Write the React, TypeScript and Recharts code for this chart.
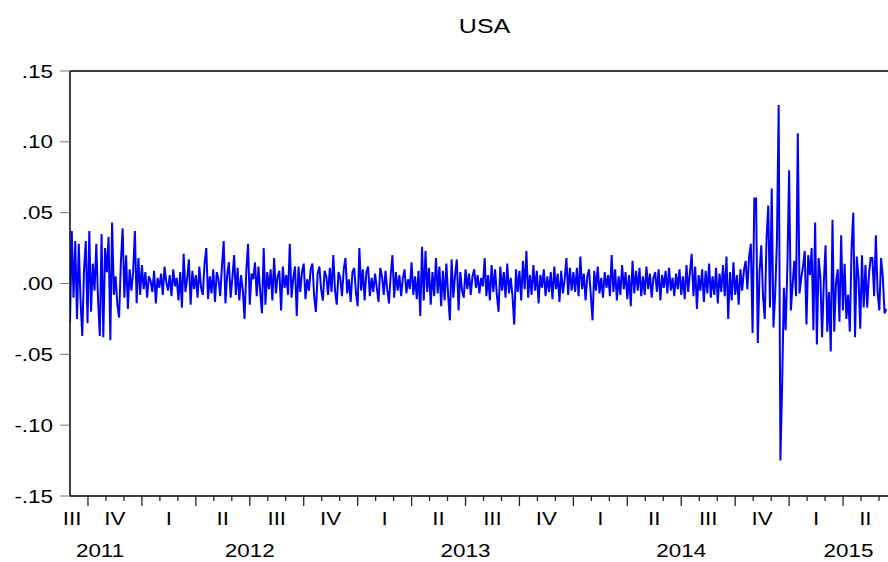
import React from 'react';
import { LineChart, Line, XAxis, YAxis, ReferenceLine } from 'recharts';

// Daily returns (in thousandths), grouped by calendar year
const ret2011 = [
  -27, 37, -10, 30, -25, 28, -12, -37, 10, 30,
  -28, 37, -20, 14, -5, 28, -12, -37, 35, -38,
  25, 8, 33, -40, 43, -8, 5, -15, -24, 15,
  39, -10, 20, -18, 10, -5, 8, 37, -14, 18,
  -8,
];
const ret2012 = [
  13, -4, 8, -10, 5, 2, -6, 9, -14, 4,
  -3, 7, -8, 12, 1, -5, 6, -9, 10, -2,
  4, -12, 8, -17, 21, -6, 3, 17, -15, 9,
  -4, 6, -10, 12, -3, -8, 14, 25, -11, 5,
  -7, 10, -13, 8, 3, -9, 12, 30, -14, 6,
  15, -10, 4, 20, -8, 11, -12, 6, -5, -25,
  9, 28, -15, 7, 3, 15, -9, 12, -6, -21,
  25, -15, 8, -4, 10, -12, 18, -7, 5, 9,
  -19, 12, -3, 6, -8, 28, -10, 4, 12, -23,
  12, -6, 8, 14, -11, 3, -5, 10, 14, -9,
  -20, 7, 12, -4, -12, 9, 5, -8, 11, -6,
  20, -5, -15, 8, 4, -9, 10, 18, -7, 3,
  -13, 8, 11, -6,
];
const ret2013 = [
  -16, 25, -5, 10, -12, 8, 12, -9, 4, -6,
  7, -3, -13, 11, 5, -8, 9, -4, -14, 6,
  20, -10, 8, -5, 6, -9, 4, 10, -7, 3,
  -4, 15, -8, 5, -11, 9, -23, 26, -12, 23,
  -6, 11, -15, 8, -9, 18, -7, 12, -16, 9,
  -12, 14, -8, -26, 17, -10, 6, 17, -19, 8,
  -5, -10, 10, -4, 7, -8, 5, 10, -3, 6,
  -7, 4, -2, 18, -9, 6, -12, 13, -6, 10,
  -8, -20, 12, -5, 8, -10, 14, -7, 4, -9,
  -29, 10, -6, 9, -12, 16, -4, 23, -10, 6,
  -8, 13, -5, 9, -14, 6, -3, 10, -9, 5,
  -6, 8, -11, 12, -4, 7, -13, 9, -7, 3,
  18, -8, 11, -5,
];
const ret2014 = [
  8, -6, 11, -9, 19, -4, 7, -12, 5, 10,
  -8, -26, 9, -5, 12, -7, 4, -10, 8, -3,
  6, -9, 20, -6, 10, -12, 5, -8, 13, -4,
  8, -11, 6, -16, 16, -7, 9, -5, 11, -9,
  5, -8, 12, -4, 7, -10, 4, 8, -6, 10,
  -12, 6, -3, 9, -7, 11, -5, 4, -9, 7,
  -4, 10, -8, 5, -11, 13, -6, 8, 21, -9,
  12, -18, 6, -5, 10, -13, 9, -7, 14, -10,
  5, -8, 11, -14, 7, -6, 13, -9, 19, -25,
  8, -12, 15, -8, 6, -15, 10, -5, 9, 16,
  -4, 19, 28, -35, 60, 60, -42, 8, 27, -9,
  -25, 31, 55, -17, 67, -31, -7, 30, 126, -125,
  -71, -3, -33, 12,
];
const ret2015 = [
  80, -19, -1, 16, -9, 106, -7, 4, 12, 23,
  -29, 20, 6, 25, -33, 43, -43, 18, 5, -38,
  1, 27, -34, -6, -48, 45, -34, 0, 10, -27,
  34, -19, 14, -25, -8, -34, 25, 50, -38, 19,
  4, -32, 20, -17, 13, -17, 6, 18, 18, -9,
  34, -6, -19, 18, 5, -21, -18,
];

// Calendar spans in months counted from 1 Sep 2011
const yearNames = ['2011', '2012', '2013', '2014', '2015'];
const yearStartMonth = [0, 4, 16, 28, 40];
const yearEndMonth = [4, 16, 28, 40, 45.5];
const yearReturns = [ret2011, ret2012, ret2013, ret2014, ret2015];
const yearLabelMonth = [1.67, 10, 22, 34, 43.3];

const quarterLabels = ['III', 'IV', 'I', 'II', 'III', 'IV', 'I', 'II', 'III', 'IV', 'I', 'II', 'III', 'IV', 'I', 'II'];
const quarterLabelMonth = [0.12, 2.5, 5.5, 8.5, 11.5, 14.5, 17.5, 20.5, 23.5, 26.5, 29.5, 32.5, 35.5, 38.5, 41.5, 44.24];
const monthTickCount = 45; // month boundaries 1..45 (Oct 2011 .. Jun 2015)

const yTicks = [-0.15, -0.1, -0.05, 0, 0.05, 0.1, 0.15];

const data: { t: number; v: number }[] = [];
yearReturns.forEach((vals, k) => {
  const span = yearEndMonth[k] - yearStartMonth[k];
  vals.forEach((val, j) => {
    data.push({ t: yearStartMonth[k] + (j * span) / vals.length, v: val / 1000 });
  });
});

type TickInfo = { tick?: 'major' | 'minor'; q?: string; year?: string };
const tickInfo = new Map<number, TickInfo>();
for (let m = 1; m <= monthTickCount; m++) {
  tickInfo.set(m, { tick: (m - 1) % 3 === 0 ? 'major' : 'minor' });
}
quarterLabelMonth.forEach((m, i) => {
  const cur = tickInfo.get(m) || {};
  tickInfo.set(m, { ...cur, q: quarterLabels[i] });
});
yearLabelMonth.forEach((m, i) => {
  const cur = tickInfo.get(m) || {};
  tickInfo.set(m, { ...cur, year: yearNames[i] });
});
const xTicks = Array.from(tickInfo.keys()).sort((a, b) => a - b);

const W = 888;
const H = 562;
const PLOT_TOP = 71;
const X_AXIS_H = 66;
const PLOT_BOTTOM = H - X_AXIS_H;
const FONT = '"Liberation Sans", Arial, Helvetica, sans-serif';
const FS = 19;
const STRETCH = 1.18;

function fmtY(v: number) {
  if (Math.abs(v) < 1e-9) return '.00';
  const s = Math.abs(v).toFixed(2).replace(/^0/, '');
  return (v < 0 ? '-' : '') + s;
}

function YTick(props: any) {
  const { x, y, payload } = props;
  return (
    <text
      transform={`translate(${x},${y + 6.5}) scale(${STRETCH},1)`}
      textAnchor="end"
      fontFamily={FONT}
      fontSize={FS}
      fill="#000"
    >
      {fmtY(payload.value)}
    </text>
  );
}

function XTick(props: any) {
  const { x, payload } = props;
  const info = tickInfo.get(payload.value) || {};
  return (
    <g>
      {info.tick && (
        <line
          x1={x}
          x2={x}
          y1={PLOT_BOTTOM}
          y2={PLOT_BOTTOM + (info.tick === 'major' ? 10 : 5)}
          stroke="#222"
          strokeWidth={1.3}
        />
      )}
      {info.q && (
        <text
          transform={`translate(${x},${PLOT_BOTTOM + 29}) scale(${STRETCH},1)`}
          textAnchor="middle"
          fontFamily={FONT}
          fontSize={FS}
          fill="#000"
        >
          {info.q}
        </text>
      )}
      {info.year && (
        <text
          transform={`translate(${x},${PLOT_BOTTOM + 61}) scale(${STRETCH},1)`}
          textAnchor="middle"
          fontFamily={FONT}
          fontSize={FS}
          fill="#000"
        >
          {info.year}
        </text>
      )}
    </g>
  );
}

export default function App() {
  return (
    <div style={{ position: 'absolute', left: 0, top: 0, width: W, height: H, background: '#fff' }}>
      <div
        style={{
          position: 'absolute',
          left: 0,
          top: 14,
          width: 970,
          textAlign: 'center',
          fontFamily: FONT,
          fontSize: 20,
          lineHeight: '24px',
          color: '#000',
        }}
      >
        <span style={{ display: 'inline-block', transform: 'scaleX(1.25)' }}>USA</span>
      </div>
      <LineChart width={W} height={H} data={data} margin={{ top: PLOT_TOP, right: 0, bottom: 0, left: 0 }}>
        <XAxis
          type="number"
          dataKey="t"
          domain={[0, 45.5]}
          ticks={xTicks}
          interval={0}
          tick={<XTick />}
          tickLine={false}
          axisLine={{ stroke: '#000', strokeWidth: 1.5 }}
          height={X_AXIS_H}
          allowDataOverflow
        />
        <YAxis
          type="number"
          domain={[-0.15, 0.15]}
          ticks={yTicks}
          interval={0}
          width={70}
          tick={<YTick />}
          tickSize={10}
          tickMargin={7}
          tickLine={{ stroke: '#777', strokeWidth: 1 }}
          axisLine={{ stroke: '#000', strokeWidth: 1.5 }}
          allowDataOverflow
        />
        <ReferenceLine y={0.15} stroke="#000" strokeWidth={1.5} />
        <Line
          type="linear"
          dataKey="v"
          stroke="#0000FF"
          strokeWidth={2}
          dot={false}
          isAnimationActive={false}
        />
      </LineChart>
    </div>
  );
}
